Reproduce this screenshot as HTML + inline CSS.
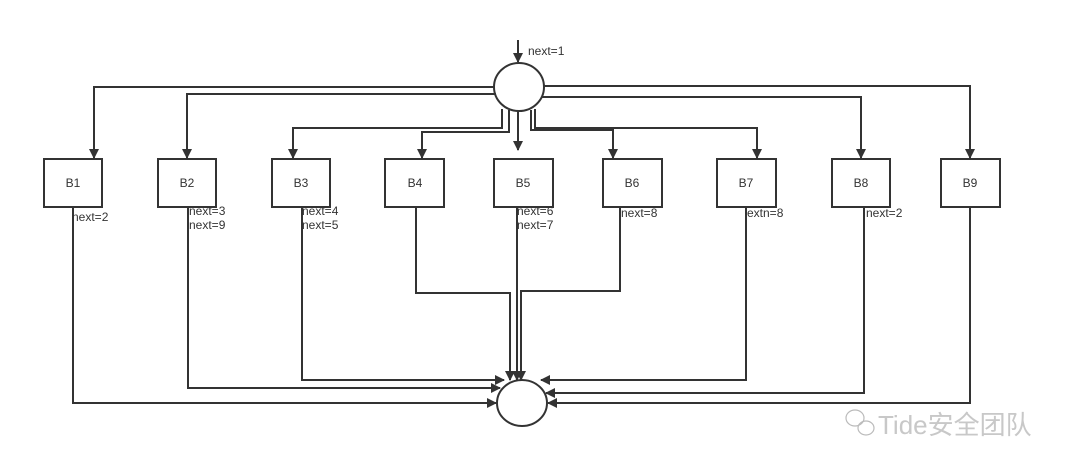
<!DOCTYPE html>
<html><head><meta charset="utf-8"><style>
body{margin:0;background:#fff;width:1080px;height:470px;overflow:hidden}
text{font-family:"Liberation Sans",sans-serif;font-size:12px;fill:#333}
</style></head><body>
<svg width="1080" height="470" viewBox="0 0 1080 470" xmlns="http://www.w3.org/2000/svg">
<defs><marker id="a" markerWidth="10" markerHeight="10" refX="9" refY="5" orient="auto" markerUnits="userSpaceOnUse"><path d="M0,0 L10,5 L0,10 z" fill="#333"/></marker></defs>
<g fill="none" stroke="#333" stroke-width="2">
<line x1="518" y1="40" x2="518" y2="62" marker-end="url(#a)"/>
<ellipse cx="519" cy="87" rx="25" ry="24" fill="#fff"/>
<ellipse cx="522" cy="403" rx="25" ry="23" fill="#fff"/>
<rect x="44" y="159" width="58" height="48"/>
<rect x="158" y="159" width="58" height="48"/>
<rect x="272" y="159" width="58" height="48"/>
<rect x="385" y="159" width="59" height="48"/>
<rect x="494" y="159" width="59" height="48"/>
<rect x="603" y="159" width="59" height="48"/>
<rect x="717" y="159" width="59" height="48"/>
<rect x="832" y="159" width="58" height="48"/>
<rect x="941" y="159" width="59" height="48"/>
<polyline points="494,87 94,87 94,158" marker-end="url(#a)"/>
<polyline points="496,94 187,94 187,158" marker-end="url(#a)"/>
<polyline points="502,109 502,128 293,128 293,158" marker-end="url(#a)"/>
<polyline points="509,110 509,132 422,132 422,158" marker-end="url(#a)"/>
<line x1="518" y1="111" x2="518" y2="150" marker-end="url(#a)"/>
<polyline points="531,110 531,130 613,130 613,158" marker-end="url(#a)"/>
<polyline points="535,109 535,128 757,128 757,158" marker-end="url(#a)"/>
<polyline points="542,97 861,97 861,158" marker-end="url(#a)"/>
<polyline points="544,86 970,86 970,158" marker-end="url(#a)"/>
<polyline points="73,207 73,403 496,403" marker-end="url(#a)"/>
<polyline points="188,207 188,388 500,388" marker-end="url(#a)"/>
<polyline points="302,207 302,380 504,380" marker-end="url(#a)"/>
<polyline points="416,207 416,293 510,293 510,380" marker-end="url(#a)"/>
<line x1="517" y1="207" x2="517" y2="380" marker-end="url(#a)"/>
<polyline points="620,207 620,291 521,291 521,380" marker-end="url(#a)"/>
<polyline points="746,207 746,380 541,380" marker-end="url(#a)"/>
<polyline points="864,207 864,393 546,393" marker-end="url(#a)"/>
<polyline points="970,207 970,403 548,403" marker-end="url(#a)"/>
</g>
<g text-anchor="middle"><text x="73" y="187">B1</text><text x="187" y="187">B2</text><text x="301" y="187">B3</text><text x="415" y="187">B4</text><text x="523" y="187">B5</text><text x="632" y="187">B6</text><text x="746" y="187">B7</text><text x="861" y="187">B8</text><text x="970" y="187">B9</text></g>
<text x="528" y="55">next=1</text>
<text x="72" y="221">next=2</text>
<text x="189" y="215">next=3</text><text x="189" y="229">next=9</text>
<text x="302" y="215">next=4</text><text x="302" y="229">next=5</text>
<text x="517" y="215">next=6</text><text x="517" y="229">next=7</text>
<text x="621" y="217">next=8</text>
<text x="747" y="217">extn=8</text>
<text x="866" y="217">next=2</text>
<g fill="none" stroke="#bbb" stroke-width="1.2"><ellipse cx="855" cy="418" rx="9" ry="8"/><ellipse cx="866" cy="428" rx="8" ry="7"/></g>
<text x="878" y="434" style="font-size:26px;fill:#c8c8c8;font-family:'Liberation Sans','Noto Sans CJK SC',sans-serif">Tide安全团队</text>
</svg>
</body></html>
